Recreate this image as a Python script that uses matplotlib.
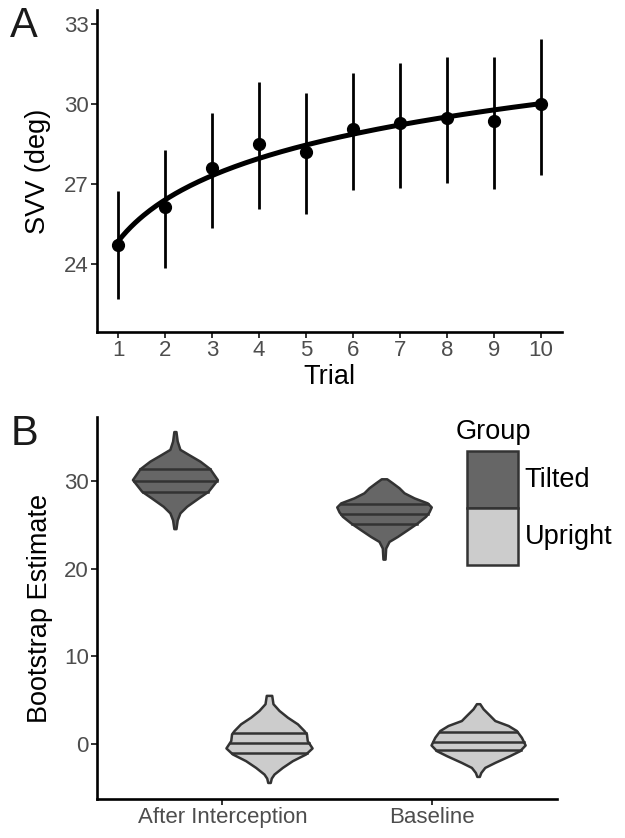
import matplotlib.pyplot as plt
from matplotlib.patches import Patch
import numpy as np

# Panel A: SVV per trial (mean and error bar ends)
trials = [1, 2, 3, 4, 5, 6, 7, 8, 9, 10]
svv_mean = [24.72, 26.17, 27.60, 28.52, 28.23, 29.07, 29.31, 29.50, 29.38, 30.00]
svv_lo = [22.69, 23.86, 25.35, 26.07, 25.90, 26.78, 26.85, 27.04, 26.82, 27.35]
svv_hi = [26.76, 28.30, 29.66, 30.82, 30.44, 31.16, 31.54, 31.78, 31.78, 32.46]
svv_ticks = [24, 27, 30, 33]

# Panel B: bootstrap violins (value levels, half widths)
conditions = ['After Interception', 'Baseline']
groups = ['Tilted', 'Upright']
group_fill = ['#666666', '#cccccc']

ai_tilted_y = [24.5, 25.5, 26.3, 27.05, 28.0, 28.77, 30.1, 31.34, 32.2, 32.98, 33.55, 34.5, 35.58]
ai_tilted_w = [0.005, 0.011, 0.024, 0.056, 0.112, 0.159, 0.203, 0.167, 0.12, 0.064, 0.024, 0.011, 0.005]
ai_tilted_q = [28.72, 29.94, 31.34]

ai_upright_y = [-4.47, -3.97, -3.51, -2.75, -1.98, -1.22, -0.53, 0.31, 1.08, 1.46, 2.22, 2.98, 3.75, 4.52, 5.47]
ai_upright_w = [0.006, 0.011, 0.024, 0.064, 0.112, 0.175, 0.206, 0.183, 0.179, 0.167, 0.136, 0.088, 0.048, 0.019, 0.013]
ai_upright_q = [-1.10, 0.05, 1.26]

bl_tilted_y = [21.02, 22.28, 23.04, 23.61, 24.38, 25.15, 25.91, 26.41, 26.98, 27.44, 28.01, 28.59, 29.16, 29.73, 30.19]
bl_tilted_w = [0.005, 0.008, 0.024, 0.064, 0.112, 0.159, 0.199, 0.215, 0.226, 0.207, 0.144, 0.096, 0.072, 0.040, 0.013]
bl_tilted_q = [25.11, 26.26, 27.37]

bl_upright_y = [-3.78, -3.33, -2.75, -2.18, -1.41, -0.84, -0.19, 0.69, 1.46, 2.03, 2.60, 3.18, 3.94, 4.52]
bl_upright_w = [0.006, 0.013, 0.032, 0.080, 0.151, 0.199, 0.225, 0.207, 0.183, 0.144, 0.080, 0.056, 0.024, 0.008]
bl_upright_q = [-0.74, 0.23, 1.40]

boot_ticks = [0, 10, 20, 30]

plt.rcParams['font.family'] = ['Liberation Sans', 'DejaVu Sans']
tick_col = '#4d4d4d'
edge_col = '#333333'

fig = plt.figure(figsize=(6.25, 8.38), dpi=100)

# ---------- Panel A ----------
axA = fig.add_axes([97/625, 1-332/838, 465/625, 322/838])
fit = np.polyfit(np.log(trials), svv_mean, 1)
xs = np.linspace(1, 10, 200)
axA.plot(xs, fit[0]*np.log(xs) + fit[1], color='black', lw=3.6, solid_capstyle='round', zorder=2)
axA.vlines(trials, svv_lo, svv_hi, color='black', lw=2.0, zorder=3)
axA.plot(trials, svv_mean, 'o', color='black', ms=8.5, zorder=4)
axA.set_xlim(0.55, 10.45)
axA.set_ylim(21.47, 33.53)
axA.set_xticks(trials)
axA.set_yticks(svv_ticks)
axA.set_xlabel('Trial', fontsize=19.5, labelpad=2)
axA.set_ylabel('SVV (deg)', fontsize=19.5, labelpad=9)

# ---------- Panel B ----------
axB = fig.add_axes([97/625, 1-799/838, 460/625, 382/838])
violins = [
    (0, 0, ai_tilted_y, ai_tilted_w, ai_tilted_q),
    (0, 1, ai_upright_y, ai_upright_w, ai_upright_q),
    (1, 0, bl_tilted_y, bl_tilted_w, bl_tilted_q),
    (1, 1, bl_upright_y, bl_upright_w, bl_upright_q),
]
for ci, gi, vy, vw, vq in violins:
    cx = ci + 1 + (-0.225 if gi == 0 else 0.225)
    vy = np.array(vy)
    vw = np.array(vw)
    px = np.concatenate([cx + vw, (cx - vw)[::-1]])
    py = np.concatenate([vy, vy[::-1]])
    axB.fill(px, py, facecolor=group_fill[gi], edgecolor=edge_col, lw=1.8, joinstyle='round', zorder=2)
    for q in vq:
        hw = np.interp(q, vy, vw)
        axB.plot([cx - hw, cx + hw], [q, q], color=edge_col, lw=1.8, zorder=3)
axB.set_xlim(0.4, 2.6)
axB.set_ylim(-6.3, 37.3)
axB.set_xticks([1, 2])
axB.set_xticklabels(conditions)
axB.set_yticks(boot_ticks)
axB.set_ylabel('Bootstrap Estimate', fontsize=19.5, labelpad=8)

# legend keys, with the title placed on its own
handles = [Patch(facecolor=group_fill[i], edgecolor=edge_col, lw=1.8, label=groups[i]) for i in range(2)]
fig.legend(handles=handles, loc='upper left', bbox_to_anchor=(467/625, 1-451/838),
           frameon=False, fontsize=19.5, borderpad=0, borderaxespad=0, labelspacing=0,
           handlelength=1.88, handleheight=2.85, handletextpad=0.25)
fig.text(456/625, 1-439/838, 'Group', fontsize=19.5, ha='left', va='baseline')

for ax in (axA, axB):
    for s in ('top', 'right'):
        ax.spines[s].set_visible(False)
    for s in ('left', 'bottom'):
        ax.spines[s].set_linewidth(1.9)
    ax.tick_params(axis='both', length=4, width=1.4, color=edge_col, labelcolor=tick_col, labelsize=16, pad=2)

fig.text(10/625, 1-26/838, 'A', fontsize=30, color='#1a1a1a', va='center', ha='left')
fig.text(11/625, 1-434/838, 'B', fontsize=30, color='#1a1a1a', va='center', ha='left')

fig.savefig('out.png', dpi=100)
